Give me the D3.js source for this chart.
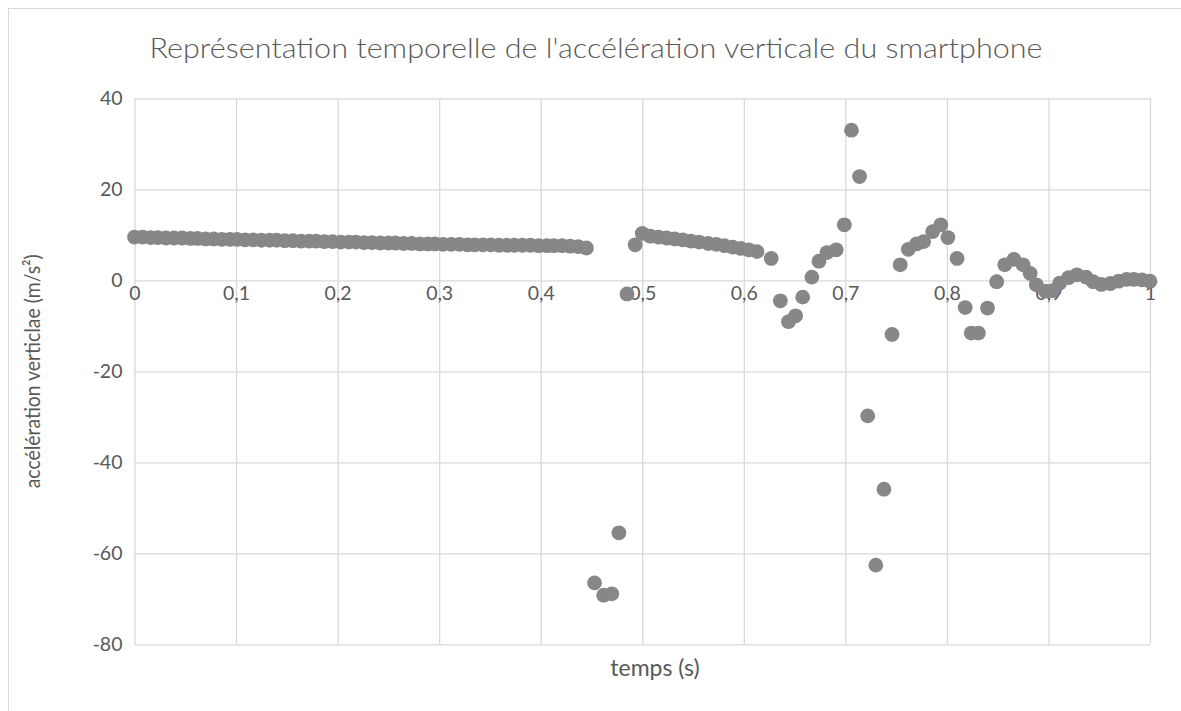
<!DOCTYPE html>
<html>
<head>
<meta charset="utf-8">
<script src="https://cdn.jsdelivr.net/npm/d3@7"></script>
<style>
  html, body { margin: 0; padding: 0; background: #ffffff; }
  svg { display: block; }
  text { font-family: Lato, "Open Sans", "Liberation Sans", sans-serif; fill: #595959; }
</style>
</head>
<body>
<svg id="chart" width="1181" height="711"></svg>
<script>
// Time of each sample (s)
const temps = [
  0.000, 0.008, 0.016, 0.023, 0.031, 0.039, 0.047, 0.055, 0.062, 0.070,
  0.078, 0.086, 0.094, 0.101, 0.109, 0.117, 0.125, 0.133, 0.140, 0.148,
  0.156, 0.164, 0.172, 0.179, 0.187, 0.195, 0.203, 0.211, 0.218, 0.226,
  0.234, 0.242, 0.250, 0.257, 0.265, 0.273, 0.281, 0.289, 0.296, 0.304,
  0.312, 0.320, 0.328, 0.335, 0.343, 0.351, 0.359, 0.367, 0.374, 0.382,
  0.390, 0.398, 0.406, 0.413, 0.421, 0.429, 0.437, 0.445,
  0.453, 0.462, 0.470, 0.477, 0.485, 0.493, 0.500, 0.508, 0.516, 0.524,
  0.532, 0.540, 0.548, 0.556, 0.565, 0.573, 0.581, 0.589, 0.597, 0.605,
  0.613, 0.627, 0.636, 0.644, 0.651, 0.658, 0.667, 0.674, 0.682, 0.691,
  0.699, 0.706, 0.714, 0.722, 0.730, 0.738, 0.746, 0.754, 0.762, 0.770,
  0.777, 0.786, 0.794, 0.801, 0.810, 0.818, 0.824, 0.831, 0.840, 0.849,
  0.857, 0.866, 0.875, 0.882, 0.888, 0.897, 0.904, 0.911, 0.920, 0.928,
  0.937, 0.944, 0.952, 0.961, 0.969, 0.977, 0.984, 0.992, 1.000
];

// Vertical acceleration of the phone (m/s²)
const acceleration = [
  9.5, 9.5, 9.4, 9.4, 9.3, 9.3, 9.3, 9.2, 9.2, 9.1,
  9.1, 9.0, 9.0, 9.0, 8.9, 8.9, 8.8, 8.8, 8.8, 8.7,
  8.7, 8.6, 8.6, 8.6, 8.5, 8.5, 8.4, 8.4, 8.4, 8.3,
  8.3, 8.2, 8.2, 8.2, 8.1, 8.1, 8.0, 8.0, 8.0, 7.9,
  7.9, 7.9, 7.8, 7.8, 7.8, 7.8, 7.7, 7.7, 7.7, 7.7,
  7.7, 7.6, 7.6, 7.6, 7.6, 7.5, 7.4, 7.1,
  -66.5, -69.2, -68.9, -55.5, -3.0, 7.8, 10.3, 9.7, 9.5, 9.3,
  9.1, 8.9, 8.6, 8.4, 8.1, 7.9, 7.6, 7.3, 7.0, 6.7,
  6.3, 4.8, -4.5, -9.1, -7.8, -3.7, 0.7, 4.2, 6.1, 6.7,
  12.2, 33.0, 22.8, -29.8, -62.6, -45.9, -11.9, 3.4, 6.8, 8.0,
  8.5, 10.7, 12.2, 9.4, 4.8, -6.0, -11.6, -11.6, -6.1, -0.3,
  3.4, 4.6, 3.4, 1.5, -1.0, -2.4, -2.3, -0.6, 0.6, 1.2,
  0.7, -0.3, -0.9, -0.7, -0.2, 0.2, 0.2, 0.1, -0.2
];

const xTicks = [0, 0.1, 0.2, 0.3, 0.4, 0.5, 0.6, 0.7, 0.8, 0.9, 1];
const yTicks = [-80, -60, -40, -20, 0, 20, 40];

const titre = "Représentation temporelle de l'accélération verticale du smartphone";
const titreX = "temps (s)";
const titreY = "accélération verticlae (m/s²)";

const W = 1181, H = 711;
const plot = { left: 134.5, right: 1150, top: 98.3, bottom: 644.3 };
const gridColor = "#d9d9d9";
const markColor = "#87878a";

const fr = d3.formatLocale({ decimal: ",", thousands: " ", grouping: [3], currency: ["", " €"], minus: "-" });
const fmt = fr.format("~g");

const svg = d3.select("#chart");

// outer chart frame
svg.append("rect")
  .attr("x", 8.5).attr("y", 8.5)
  .attr("width", W - 8).attr("height", H - 8)
  .attr("fill", "#ffffff")
  .attr("stroke", gridColor).attr("stroke-width", 1);

const x = d3.scaleLinear().domain([0, 1]).range([plot.left, plot.right]);
const y = d3.scaleLinear().domain([-80, 40]).range([plot.bottom, plot.top]);

// vertical gridlines
const gx = svg.append("g")
  .attr("transform", `translate(0,${plot.bottom})`)
  .call(d3.axisBottom(x).tickValues(xTicks).tickSize(-(plot.bottom - plot.top)).tickFormat(""));
gx.select(".domain").remove();
gx.selectAll("line").attr("stroke", gridColor).attr("stroke-width", 1.3);

// horizontal gridlines
const gy = svg.append("g")
  .attr("transform", `translate(${plot.left},0)`)
  .call(d3.axisLeft(y).tickValues(yTicks).tickSize(-(plot.right - plot.left)).tickFormat(""));
gy.select(".domain").remove();
gy.selectAll("line").attr("stroke", gridColor).attr("stroke-width", 1.3);

const tickFont = 19.5;

// y tick labels
const ly = svg.append("g")
  .attr("transform", `translate(${plot.left},0)`)
  .call(d3.axisLeft(y).tickValues(yTicks).tickSize(0).tickPadding(12).tickFormat(fmt));
ly.select(".domain").remove();
ly.selectAll("text")
  .style("font-family", "Lato, 'Open Sans', sans-serif")
  .attr("fill", "#595959").attr("font-size", tickFont);

// x tick labels along the zero line
const lx = svg.append("g")
  .attr("transform", `translate(0,${y(0)})`)
  .call(d3.axisBottom(x).tickValues(xTicks).tickSize(0).tickPadding(6).tickFormat(fmt));
lx.select(".domain").remove();
lx.selectAll("text")
  .style("font-family", "Lato, 'Open Sans', sans-serif")
  .attr("fill", "#595959").attr("font-size", tickFont);

// chart title and axis titles
svg.append("text")
  .attr("x", 596).attr("y", 58)
  .attr("text-anchor", "middle")
  .attr("font-size", 27).attr("font-weight", 300)
  .attr("textLength", 893).attr("lengthAdjust", "spacingAndGlyphs")
  .text(titre);

svg.append("text")
  .attr("x", 655).attr("y", 676)
  .attr("text-anchor", "middle")
  .attr("font-size", 23)
  .text(titreX);

svg.append("text")
  .attr("transform", `translate(40,${(plot.top + plot.bottom) / 2}) rotate(-90)`)
  .attr("text-anchor", "middle")
  .attr("font-size", 21.5)
  .attr("textLength", 234).attr("lengthAdjust", "spacingAndGlyphs")
  .text(titreY);

// scatter points
const pts = temps.map((tt, i) => ({ t: tt, a: acceleration[i] }));
svg.append("g")
  .selectAll("circle")
  .data(pts)
  .join("circle")
  .attr("cx", d => x(d.t))
  .attr("cy", d => y(d.a))
  .attr("r", 7.4)
  .attr("fill", markColor);
</script>
</body>
</html>
